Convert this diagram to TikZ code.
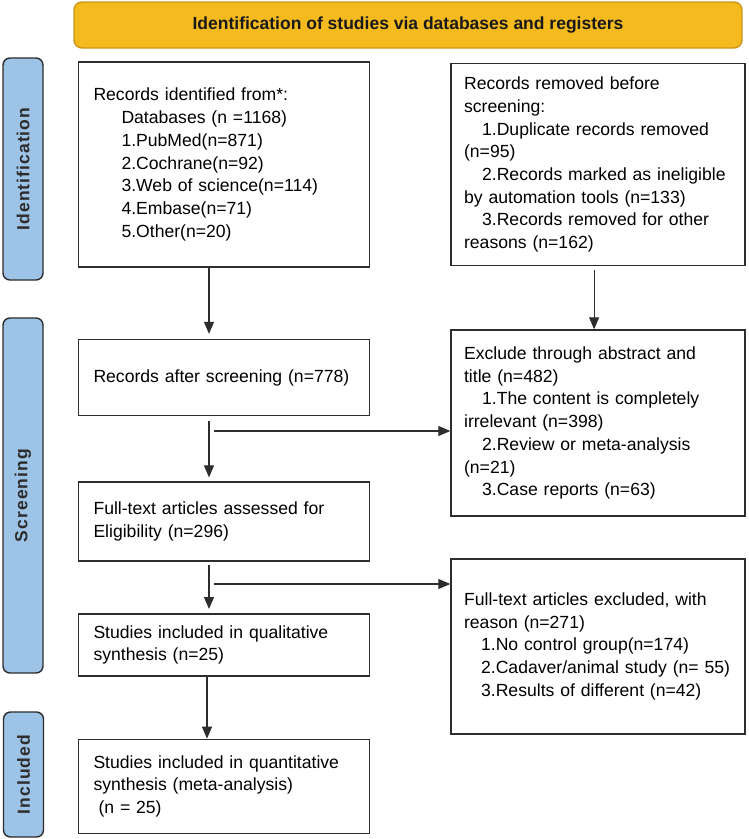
\documentclass[tikz,border=0pt]{standalone}
\usepackage{fontspec}
\setmainfont{Liberation Sans}
\newfontfamily\phasefont[LetterSpace=6]{Liberation Sans}
\usepackage{tikz}
\usetikzlibrary{positioning, arrows.meta}
\definecolor{gold}{RGB}{244,186,30}
\definecolor{golddark}{RGB}{204,150,28}
\definecolor{phaseblue}{RGB}{157,195,230}
\definecolor{ink}{RGB}{45,45,45}

\begin{document}
\begin{tikzpicture}[
  x=1pt, y=-1pt,
  node distance=71pt and 80pt,
  leftbox/.style={draw=ink, line width=1.6pt, fill=white,
                  text width=261pt, inner xsep=15pt, inner ysep=0pt,
                  minimum height=#1, align=left,
                  font=\fontsize{17.6}{22.7}\selectfont},
  rightbox/.style={leftbox=#1, text width=268pt, inner xsep=13pt},
  phase/.style={draw=ink, line width=1.4pt, fill=phaseblue, rounded corners=7pt,
                rotate=90, minimum width=#1, minimum height=40pt, inner sep=0pt,
                font=\phasefont\fontsize{17.5}{20}\selectfont\bfseries, text=ink},
  arr/.style={-{Triangle[length=12pt, width=10pt]}, line width=1.1pt, color=ink},
]
  \useasboundingbox (0,0) rectangle (748,839);

  % banner and phases
  \node[draw=golddark, line width=1.4pt, fill=gold, rounded corners=8pt,
        minimum width=668pt, minimum height=46pt,
        font=\fontsize{17.5}{20}\selectfont\bfseries, text=black!90]
    (banner) at (408,25) {Identification of studies via databases and registers};
  \node[phase=222pt] (phaseid) at (23,169) {Identification};
  \node[phase=355pt] (phasescr) at (23,495.5) {Screening};
  \node[phase=125pt] (phaseinc) at (23.5,774.5) {Included};

  % left column
  \node[leftbox=205pt] (ident) at (224,164.5) {Records identified from*:\\
    \hspace*{28pt}Databases (n =1168)\\
    \hspace*{28pt}1.PubMed(n=871)\\
    \hspace*{28pt}2.Cochrane(n=92)\\
    \hspace*{28pt}3.Web of science(n=114)\\
    \hspace*{28pt}4.Embase(n=71)\\
    \hspace*{28pt}5.Other(n=20)};
  \node[leftbox=76pt, below=of ident] (after) {Records after screening (n=778)};
  \node[leftbox=79pt, below=65pt of after] (fulltext) {Full-text articles assessed for\\
    Eligibility (n=296)};
  \node[leftbox=62pt, below=51pt of fulltext] (qual) {Studies included in qualitative\\
    synthesis (n=25)};
  \node[leftbox=94pt, below=62pt of qual] (quant) {Studies included in quantitative\\
    synthesis (meta-analysis)\\
    \hspace*{5pt}(n = 25)};

  % right column
  \node[rightbox=202pt, right=of ident] (removed) {Records removed before\\
    screening:\\
    \hspace*{18pt}1.Duplicate records removed\\
    (n=95)\\
    \hspace*{18pt}2.Records marked as ineligible\\
    by automation tools (n=133)\\
    \hspace*{18pt}3.Records removed for other\\
    reasons (n=162)};
  \node[rightbox=186pt, below=63pt of removed] (exclude) {Exclude through abstract and\\
    title (n=482)\\
    \hspace*{18pt}1.The content is completely\\
    irrelevant (n=398)\\
    \hspace*{18pt}2.Review or meta-analysis\\
    (n=21)\\
    \hspace*{18pt}3.Case reports (n=63)};
  \node[rightbox=175pt, below=41pt of exclude] (excluded) {Full-text articles excluded, with\\
    reason (n=271)\\
    \hspace*{17pt}1.No control group(n=174)\\
    \hspace*{17pt}\mbox{2.Cadaver/animal study (n=~55)}\\
    \hspace*{17pt}3.Results of different (n=42)};

  \coordinate (fork1) at (214,431);
  \coordinate (fork2) at (214,584);

  % connectors
  \draw[arr, shorten >=5pt] ([xshift=-15pt]ident.south) -- ([xshift=-15pt]after.north);
  \draw[arr, shorten <=4pt] ([xshift=-4pt]removed.south) -- ([xshift=-4pt]exclude.north);
  \draw[arr, shorten <=5pt, shorten >=4pt] ([xshift=-15pt]after.south) -- ([xshift=-15pt]fulltext.north);
  \draw[arr] (fork1) -- (fork1 -| exclude.west);
  \draw[arr, shorten <=3pt, shorten >=4pt] ([xshift=-15pt]fulltext.south) -- ([xshift=-15pt]qual.north);
  \draw[arr] (fork2) -- (fork2 -| excluded.west);
  \draw[arr] ([xshift=-17pt]qual.south) -- ([xshift=-17pt]quant.north);
\end{tikzpicture}
\end{document}
